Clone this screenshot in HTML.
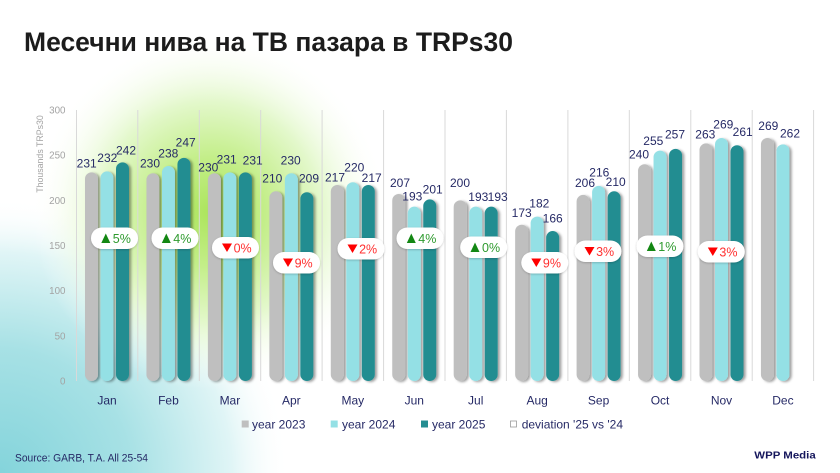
<!DOCTYPE html>
<html><head><meta charset="utf-8">
<style>
html,body{margin:0;padding:0;background:#fff;}
body{width:840px;height:473px;overflow:hidden;}
svg{display:block;}
text{font-family:"Liberation Sans","Noto Sans CJK SC",sans-serif;}
</style></head>
<body>
<svg width="840" height="473" viewBox="0 0 840 473" xmlns="http://www.w3.org/2000/svg">
<defs>
  <radialGradient id="g1" cx="210" cy="212" r="178" gradientUnits="userSpaceOnUse">
    <stop offset="0" stop-color="#ace55c"/>
    <stop offset="0.3" stop-color="#c3ee88"/>
    <stop offset="0.62" stop-color="#e3f8cb"/>
    <stop offset="1" stop-color="#ffffff" stop-opacity="0"/>
  </radialGradient>
  <radialGradient id="g2" cx="0" cy="473" r="290" gradientUnits="userSpaceOnUse" gradientTransform="translate(0 473) scale(1 0.95) translate(0 -473)">
    <stop offset="0" stop-color="#84d4db"/>
    <stop offset="0.45" stop-color="#a7e1e5"/>
    <stop offset="0.8" stop-color="#e0f5f6"/>
    <stop offset="1" stop-color="#ffffff" stop-opacity="0"/>
  </radialGradient>
  <filter id="sh" x="-50%" y="-10%" width="200%" height="120%">
    <feDropShadow dx="2.2" dy="1" stdDeviation="1.3" flood-color="#000" flood-opacity="0.38"/>
  </filter>
  <filter id="bs" x="-20%" y="-30%" width="140%" height="160%">
    <feDropShadow dx="0" dy="0.8" stdDeviation="1" flood-color="#000" flood-opacity="0.22"/>
  </filter>
</defs>

<rect width="840" height="473" fill="#fff"/>
<rect width="840" height="473" fill="url(#g2)"/>
<rect width="840" height="473" fill="url(#g1)"/>

<!-- title -->
<text x="24" y="51" font-size="26.5" font-weight="bold" fill="#1c1c1c" textLength="489" lengthAdjust="spacingAndGlyphs">Месечни нива на ТВ пазара в TRPs30</text>

<!-- gridlines -->
<g stroke="#d9d9d9" stroke-width="1">
  <line x1="76.5" y1="110" x2="76.5" y2="381"/>
  <line x1="137.8" y1="110" x2="137.8" y2="381"/>
  <line x1="199.3" y1="110" x2="199.3" y2="381"/>
  <line x1="260.7" y1="110" x2="260.7" y2="381"/>
  <line x1="322.1" y1="110" x2="322.1" y2="381"/>
  <line x1="383.6" y1="110" x2="383.6" y2="381"/>
  <line x1="445" y1="110" x2="445" y2="381"/>
  <line x1="506.4" y1="110" x2="506.4" y2="381"/>
  <line x1="567.9" y1="110" x2="567.9" y2="381"/>
  <line x1="629.3" y1="110" x2="629.3" y2="381"/>
  <line x1="690.8" y1="110" x2="690.8" y2="381"/>
  <line x1="752.2" y1="110" x2="752.2" y2="381"/>
  <line x1="813.6" y1="110" x2="813.6" y2="381"/>
</g>

<!-- y axis labels -->
<g font-size="9.8" fill="#a3a3a3" text-anchor="end">
  <text x="65.5" y="113.5">300</text>
  <text x="65.5" y="158.7">250</text>
  <text x="65.5" y="203.8">200</text>
  <text x="65.5" y="249">150</text>
  <text x="65.5" y="294.2">100</text>
  <text x="65.5" y="339.3">50</text>
  <text x="65.5" y="384.5">0</text>
</g>
<text transform="translate(43 154) rotate(-90)" font-size="8.8" fill="#a3a3a3" text-anchor="middle">Thousands TRPs30</text>

<!-- bars -->
<g filter="url(#sh)">
  <rect x="85" y="172.33" width="13" height="208.67" rx="6.5" fill="#bfbfbf"/>
  <rect x="100.5" y="171.43" width="13" height="209.57" rx="6.5" fill="#94e0e5"/>
  <rect x="116" y="162.39" width="13" height="218.61" rx="6.5" fill="#248d91"/>
  <rect x="146.45" y="173.23" width="13" height="207.77" rx="6.5" fill="#bfbfbf"/>
  <rect x="161.95" y="166.01" width="13" height="214.99" rx="6.5" fill="#94e0e5"/>
  <rect x="177.45" y="157.88" width="13" height="223.12" rx="6.5" fill="#248d91"/>
  <rect x="207.9" y="173.23" width="13" height="207.77" rx="6.5" fill="#bfbfbf"/>
  <rect x="223.4" y="172.33" width="13" height="208.67" rx="6.5" fill="#94e0e5"/>
  <rect x="238.9" y="172.33" width="13" height="208.67" rx="6.5" fill="#248d91"/>
  <rect x="269.35" y="191.3" width="13" height="189.7" rx="6.5" fill="#bfbfbf"/>
  <rect x="284.85" y="173.23" width="13" height="207.77" rx="6.5" fill="#94e0e5"/>
  <rect x="300.35" y="192.2" width="13" height="188.8" rx="6.5" fill="#248d91"/>
  <rect x="330.8" y="184.98" width="13" height="196.02" rx="6.5" fill="#bfbfbf"/>
  <rect x="346.3" y="182.27" width="13" height="198.73" rx="6.5" fill="#94e0e5"/>
  <rect x="361.8" y="184.98" width="13" height="196.02" rx="6.5" fill="#248d91"/>
  <rect x="392.25" y="194.01" width="13" height="186.99" rx="6.5" fill="#bfbfbf"/>
  <rect x="407.75" y="206.66" width="13" height="174.34" rx="6.5" fill="#94e0e5"/>
  <rect x="423.25" y="199.43" width="13" height="181.57" rx="6.5" fill="#248d91"/>
  <rect x="453.7" y="200.33" width="13" height="180.67" rx="6.5" fill="#bfbfbf"/>
  <rect x="469.2" y="206.66" width="13" height="174.34" rx="6.5" fill="#94e0e5"/>
  <rect x="484.7" y="206.66" width="13" height="174.34" rx="6.5" fill="#248d91"/>
  <rect x="515.15" y="224.72" width="13" height="156.28" rx="6.5" fill="#bfbfbf"/>
  <rect x="530.65" y="216.59" width="13" height="164.41" rx="6.5" fill="#94e0e5"/>
  <rect x="546.15" y="231.05" width="13" height="149.95" rx="6.5" fill="#248d91"/>
  <rect x="576.6" y="194.91" width="13" height="186.09" rx="6.5" fill="#bfbfbf"/>
  <rect x="592.1" y="185.88" width="13" height="195.12" rx="6.5" fill="#94e0e5"/>
  <rect x="607.6" y="191.3" width="13" height="189.7" rx="6.5" fill="#248d91"/>
  <rect x="638.05" y="164.2" width="13" height="216.8" rx="6.5" fill="#bfbfbf"/>
  <rect x="653.55" y="150.65" width="13" height="230.35" rx="6.5" fill="#94e0e5"/>
  <rect x="669.05" y="148.84" width="13" height="232.16" rx="6.5" fill="#248d91"/>
  <rect x="699.5" y="143.42" width="13" height="237.58" rx="6.5" fill="#bfbfbf"/>
  <rect x="715" y="138" width="13" height="243" rx="6.5" fill="#94e0e5"/>
  <rect x="730.5" y="145.23" width="13" height="235.77" rx="6.5" fill="#248d91"/>
  <rect x="760.95" y="138" width="13" height="243" rx="6.5" fill="#bfbfbf"/>
  <rect x="776.45" y="144.33" width="13" height="236.67" rx="6.5" fill="#94e0e5"/>
</g>

<!-- value labels -->
<g font-size="12" fill="#262a66" text-anchor="middle">
  <text x="86.7" y="167.6">231</text><text x="107.3" y="162">232</text><text x="126" y="154.3">242</text>
  <text x="150" y="167.3">230</text><text x="168.3" y="157.6">238</text><text x="185.7" y="146.6">247</text>
  <text x="208.3" y="171.6">230</text><text x="226.7" y="163.6">231</text><text x="252.7" y="164.3">231</text>
  <text x="272.3" y="182.6">210</text><text x="290.7" y="164.3">230</text><text x="309" y="182.6">209</text>
  <text x="335" y="181.6">217</text><text x="354.3" y="171.6">220</text><text x="371.7" y="182">217</text>
  <text x="400" y="187">207</text><text x="412.3" y="200.3">193</text><text x="432.7" y="193.6">201</text>
  <text x="460" y="187">200</text><text x="478.3" y="201">193</text><text x="497.7" y="201">193</text>
  <text x="521.7" y="217">173</text><text x="539.3" y="207.6">182</text><text x="552.7" y="222.6">166</text>
  <text x="585" y="187">206</text><text x="599.3" y="176.6">216</text><text x="615.7" y="186">210</text>
  <text x="639" y="158.3">240</text><text x="653.3" y="145">255</text><text x="675" y="138.3">257</text>
  <text x="705.3" y="138.3">263</text><text x="723.3" y="128.3">269</text><text x="742.7" y="136">261</text>
  <text x="768.3" y="130">269</text><text x="790" y="137.6">262</text>
</g>

<!-- deviation badges -->
<g filter="url(#bs)" fill="#ffffff">
  <rect x="91" y="227.5" width="47" height="21.5" rx="10.7"/>
  <rect x="151.5" y="227.5" width="47" height="21.5" rx="10.7"/>
  <rect x="212" y="237" width="47" height="21.5" rx="10.7"/>
  <rect x="273" y="252" width="47" height="21.5" rx="10.7"/>
  <rect x="337.5" y="238" width="47" height="21.5" rx="10.7"/>
  <rect x="396.5" y="227.5" width="47" height="21.5" rx="10.7"/>
  <rect x="460.2" y="236.5" width="47" height="21.5" rx="10.7"/>
  <rect x="521.3" y="252" width="47" height="21.5" rx="10.7"/>
  <rect x="574.5" y="240.5" width="47" height="21.5" rx="10.7"/>
  <rect x="636.5" y="235.5" width="47" height="21.5" rx="10.7"/>
  <rect x="697.8" y="241" width="47" height="21.5" rx="10.7"/>
</g>
<g fill="#138713">
  <polygon points="101.3,243 110.3,243 105.8,233.5"/>
  <polygon points="161.8,243 170.8,243 166.3,233.5"/>
  <polygon points="406.8,243 415.8,243 411.3,233.5"/>
  <polygon points="470.5,252 479.5,252 475,242.5"/>
  <polygon points="646.8,251 655.8,251 651.3,241.5"/>
</g>
<g fill="#ff0000">
  <polygon points="222,243.5 232,243.5 227,252"/>
  <polygon points="283,258.5 293,258.5 288,267"/>
  <polygon points="347.5,244.5 357.5,244.5 352.5,253"/>
  <polygon points="531.3,258.5 541.3,258.5 536.3,267"/>
  <polygon points="584.5,247 594.5,247 589.5,255.5"/>
  <polygon points="707.8,247.5 717.8,247.5 712.8,256"/>
</g>
<g font-size="12.5">
  <text x="112.8" y="242.8" fill="#2e9a2e">5%</text>
  <text x="173.3" y="242.8" fill="#2e9a2e">4%</text>
  <text x="233.6" y="252.3" fill="#ff3030">0%</text>
  <text x="294.6" y="267.3" fill="#ff3030">9%</text>
  <text x="359.1" y="253.3" fill="#ff3030">2%</text>
  <text x="418.3" y="242.8" fill="#2e9a2e">4%</text>
  <text x="482" y="251.8" fill="#2e9a2e">0%</text>
  <text x="542.9" y="267.3" fill="#ff3030">9%</text>
  <text x="596.1" y="255.8" fill="#ff3030">3%</text>
  <text x="658.3" y="250.8" fill="#2e9a2e">1%</text>
  <text x="719.4" y="256.3" fill="#ff3030">3%</text>
</g>

<!-- category labels -->
<g font-size="12" fill="#262a66" text-anchor="middle">
  <text x="107" y="404.3">Jan</text>
  <text x="168.45" y="404.3">Feb</text>
  <text x="229.9" y="404.3">Mar</text>
  <text x="291.35" y="404.3">Apr</text>
  <text x="352.8" y="404.3">May</text>
  <text x="414.25" y="404.3">Jun</text>
  <text x="475.7" y="404.3">Jul</text>
  <text x="537.15" y="404.3">Aug</text>
  <text x="598.6" y="404.3">Sep</text>
  <text x="660.05" y="404.3">Oct</text>
  <text x="721.5" y="404.3">Nov</text>
  <text x="782.95" y="404.3">Dec</text>
</g>

<!-- legend -->
<rect x="241.7" y="420.5" width="7" height="7" fill="#bfbfbf"/>
<rect x="330.7" y="420.5" width="7" height="7" fill="#94e0e5"/>
<rect x="421" y="420.5" width="7" height="7" fill="#248d91"/>
<rect x="510.5" y="421" width="6" height="6" fill="#fff" stroke="#9a9a9a" stroke-width="0.8"/>
<g font-size="12" fill="#262a66">
  <text x="252" y="428.3">year 2023</text>
  <text x="342" y="428.3">year 2024</text>
  <text x="432" y="428.3">year 2025</text>
  <text x="521.7" y="428.3">deviation '25 vs '24</text>
</g>

<!-- footer -->
<text x="15" y="461.5" font-size="11" fill="#262a66" textLength="133" lengthAdjust="spacingAndGlyphs">Source: GARB, T.A. All 25-54</text>
<text x="754.3" y="458.3" font-size="10.5" font-weight="bold" fill="#15165c" textLength="61.4" lengthAdjust="spacingAndGlyphs">WPP Media</text>
</svg>
</body></html>
